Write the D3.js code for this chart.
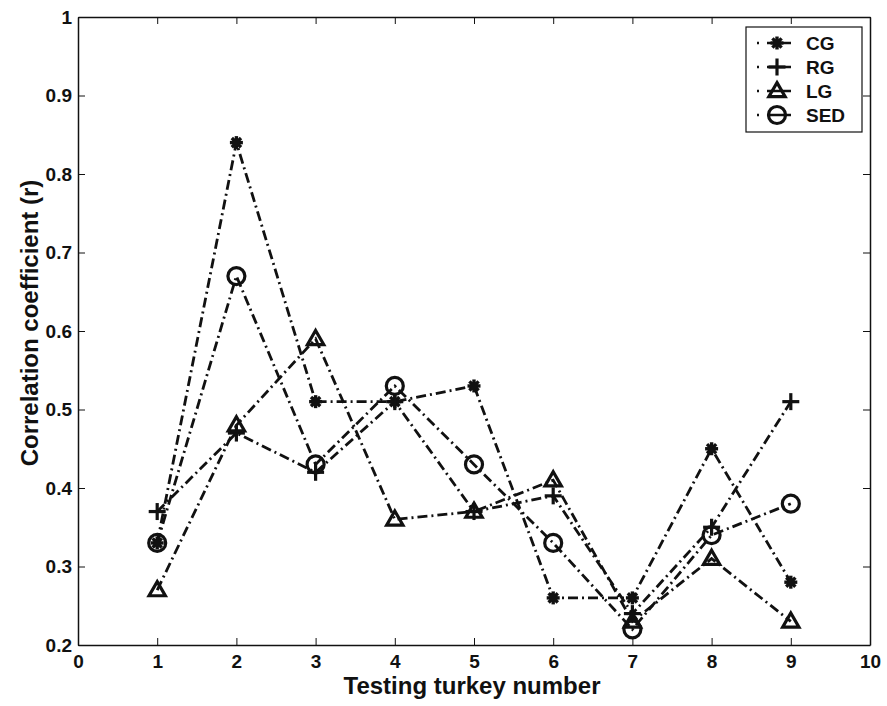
<!DOCTYPE html>
<html><head><meta charset="utf-8">
<script src="https://cdn.jsdelivr.net/npm/d3@7"></script>
<style>html,body{margin:0;padding:0;background:#fff;}svg{display:block;}</style>
</head><body>
<svg id="chart" width="887" height="706"></svg>
<script>
const xTicks = [0,1,2,3,4,5,6,7,8,9,10];
const xTickLabels = ["0","1","2","3","4","5","6","7","8","9","10"];
const yTicks = [0.2,0.3,0.4,0.5,0.6,0.7,0.8,0.9,1];
const yTickLabels = ["0.2","0.3","0.4","0.5","0.6","0.7","0.8","0.9","1"];
const turkeys = [1,2,3,4,5,6,7,8,9];
const seriesNames = ["CG","RG","LG","SED"];
const cgValues  = [0.33,0.84,0.51,0.51,0.53,0.26,0.26,0.45,0.28];
const rgValues  = [0.37,0.47,0.42,0.51,0.37,0.39,0.24,0.35,0.51];
const lgValues  = [0.27,0.48,0.59,0.36,0.37,0.41,0.23,0.31,0.23];
const sedValues = [0.33,0.67,0.43,0.53,0.43,0.33,0.22,0.34,0.38];
const xLabel = "Testing turkey number";
const yLabel = "Correlation coefficient (r)";

const series = [
  {name: seriesNames[0], values: cgValues,  marker: "asterisk"},
  {name: seriesNames[1], values: rgValues,  marker: "plus"},
  {name: seriesNames[2], values: lgValues,  marker: "triangle"},
  {name: seriesNames[3], values: sedValues, marker: "circle"}
];

const svg = d3.select("#chart");
const L = 78, R = 870, T = 17, B = 645;
const x = d3.scaleLinear().domain([0,10]).range([L,R]);
const y = d3.scaleLinear().domain([0.2,1]).range([B,T]);
const font = "'Liberation Sans', Arial, sans-serif";
const ink = "#111";

// axes with inward ticks
const gx = svg.append("g").attr("transform",`translate(0,${B})`)
  .call(d3.axisBottom(x).tickValues(xTicks).tickFormat((d,i)=>xTickLabels[i]).tickSizeInner(-7).tickSizeOuter(0).tickPadding(10));
const gy = svg.append("g").attr("transform",`translate(${L},0)`)
  .call(d3.axisLeft(y).tickValues(yTicks).tickFormat((d,i)=>yTickLabels[i]).tickSizeInner(-7).tickSizeOuter(0).tickPadding(6));
const gt = svg.append("g").attr("transform",`translate(0,${T})`)
  .call(d3.axisTop(x).tickValues(xTicks).tickFormat("").tickSizeInner(-7).tickSizeOuter(0));
const gr = svg.append("g").attr("transform",`translate(${R},0)`)
  .call(d3.axisRight(y).tickValues(yTicks).tickFormat("").tickSizeInner(-7).tickSizeOuter(0));
[gx,gy,gt,gr].forEach(g=>{
  g.selectAll("path.domain").attr("stroke",ink).attr("stroke-width",1.5);
  g.selectAll(".tick line").attr("stroke",ink).attr("stroke-width",1);
  g.selectAll("text").attr("font-family",font).attr("font-weight","bold").attr("font-size",19).attr("fill",ink);
});

svg.append("text").attr("x",(L+R)/2-2).attr("y",694).attr("text-anchor","middle")
  .attr("font-family",font).attr("font-weight","bold").attr("font-size",24).attr("fill",ink).text(xLabel);
svg.append("text").attr("transform",`translate(38,${(T+B)/2-8}) rotate(-90)`).attr("text-anchor","middle")
  .attr("font-family",font).attr("font-weight","bold").attr("font-size",24).attr("fill",ink).text(yLabel);

const dash = "10,4,2,4";
const line = d3.line().x((d,i)=>x(turkeys[i])).y(d=>y(d));

function drawMarker(g, type, cx, cy){
  if(type==="asterisk"){
    const r=6.5;
    [0,45,90,135].forEach(a=>{
      const rad=a*Math.PI/180;
      g.append("line").attr("x1",cx-r*Math.cos(rad)).attr("y1",cy-r*Math.sin(rad))
        .attr("x2",cx+r*Math.cos(rad)).attr("y2",cy+r*Math.sin(rad))
        .attr("stroke",ink).attr("stroke-width",3.4);
    });
    g.append("circle").attr("cx",cx).attr("cy",cy).attr("r",4).attr("fill",ink);
  } else if(type==="plus"){
    const r=8.5;
    g.append("line").attr("x1",cx-r).attr("y1",cy).attr("x2",cx+r).attr("y2",cy).attr("stroke",ink).attr("stroke-width",3.2);
    g.append("line").attr("x1",cx).attr("y1",cy-r).attr("x2",cx).attr("y2",cy+r).attr("stroke",ink).attr("stroke-width",3.2);
  } else if(type==="triangle"){
    g.append("path").attr("d",d3.symbol().type(d3.symbolTriangle2).size(190)()).attr("transform",`translate(${cx},${cy+1})`)
      .attr("fill","none").attr("stroke",ink).attr("stroke-width",3.2);
  } else {
    g.append("circle").attr("cx",cx).attr("cy",cy).attr("r",8.5).attr("fill","none").attr("stroke",ink).attr("stroke-width",3.2);
  }
}

const plot = svg.append("g");
series.forEach(s=>{
  plot.append("path").datum(s.values).attr("d",line).attr("fill","none")
    .attr("stroke",ink).attr("stroke-width",2.8).attr("stroke-dasharray",dash);
});
series.forEach(s=>{
  const g = plot.append("g");
  s.values.forEach((v,i)=>drawMarker(g,s.marker,x(turkeys[i]),y(v)));
});

// legend
const lg = svg.append("g");
lg.append("rect").attr("x",746).attr("y",27).attr("width",116).attr("height",105)
  .attr("fill","#fff").attr("stroke",ink).attr("stroke-width",1.2);
series.forEach((s,i)=>{
  const cy = 43 + i*24;
  lg.append("line").attr("x1",757).attr("x2",797).attr("y1",cy).attr("y2",cy)
    .attr("stroke",ink).attr("stroke-width",2.6).attr("stroke-dasharray","2,8,24,8");
  drawMarker(lg, s.marker, 777, cy);
  lg.append("text").attr("x",806).attr("y",cy+7).attr("font-family",font).attr("font-weight","bold")
    .attr("font-size",19).attr("fill",ink).text(s.name);
});
</script>
</body></html>
